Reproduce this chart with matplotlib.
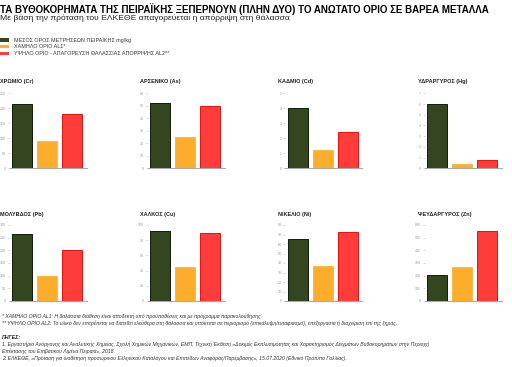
import matplotlib
matplotlib.use("Agg")
import matplotlib.pyplot as plt
from matplotlib.patches import Rectangle

plt.rcParams['font.family'] = ['Liberation Sans', 'DejaVu Sans']

# data
metals = ['ΧΡΩΜΙΟ (Cr)', 'ΑΡΣΕΝΙΚΟ (As)', 'ΚΑΔΜΙΟ (Cd)', 'ΥΔΡΑΡΓΥΡΟΣ (Hg)',
          'ΜΟΛΥΒΔΟΣ (Pb)', 'ΧΑΛΚΟΣ (Cu)', 'ΝΙΚΕΛΙΟ (Ni)', 'ΨΕΥΔΑΡΓΥΡΟΣ (Zn)']
mean_piraeus = [213, 52, 4.0, 6.0, 266, 92, 65, 205]
al1 = [90, 25, 1.2, 0.4, 100, 45, 36.5, 270]
al2 = [180, 50, 2.4, 0.8, 200, 90, 73, 550]
y_max = [250, 60, 5, 7, 300, 100, 80, 600]
y_step = [50, 10, 1, 1, 50, 20, 10, 100]

series_names = ['ΜΕΣΟΣ ΟΡΟΣ ΜΕΤΡΗΣΕΩΝ ΠΕΙΡΑΪΚΗΣ mg/kg', 'ΧΑΜΗΛΟ ΟΡΙΟ AL1*',
                'ΥΨΗΛΟ ΟΡΙΟ - ΑΠΑΓΟΡΕΥΣΗ ΘΑΛΑΣΣΙΑΣ ΑΠΟΡΡΙΨΗΣ AL2**']
fills = ['#34461f', '#fdad2c', '#fe3d3a']
edges = ['#101c08', '#fbb94a', '#e81010']

title = 'ΤΑ ΒΥΘΟΚΟΡΗΜΑΤΑ ΤΗΣ ΠΕΙΡΑΪΚΗΣ ΞΕΠΕΡΝΟΥΝ (ΠΛΗΝ ΔΥΟ) ΤΟ ΑΝΩΤΑΤΟ ΟΡΙΟ ΣΕ ΒΑΡΕΑ ΜΕΤΑΛΛΑ'
subtitle = 'Με βάση την πρόταση του ΕΛΚΕΘΕ απαγορεύεται η απόρριψη στη θάλασσα'
notes = [
    '* ΧΑΜΗΛΟ ΟΡΙΟ AL1: Η θαλάσσια διάθεση είναι αποδεκτή υπό προϋποθέσεις και με πρόγραμμα παρακολούθησης.',
    '** ΥΨΗΛΟ ΟΡΙΟ AL2: Το υλικό δεν επιτρέπεται να διατεθεί ελεύθερα στη θάλασσα και υπόκειται σε περιορισμό (επικάλυψη/ενταφιασμό), επεξεργασία ή διαχείριση επί της ξηράς.',
]
sources = [
    '1. Εργαστήριο Ανόργανης και Αναλυτικής Χημείας, Σχολή Χημικών Μηχανικών, ΕΜΠ, Τεχνική Έκθεση «Δοκιμές Εκπλυσιμότητας και Χαρακτηρισμός Δειγμάτων Βυθοκορημάτων στην Περιοχή',
    'Επέκτασης του Επιβατικού Λιμένα Πειραιά», 2018.',
    '2. ΕΛΚΕΘΕ, «Πρόταση για υιοθέτηση προσωρινού Ελληνικού Καταλόγου και Επιπέδων Αναφοράς/Παρέμβασης», 15.07.2020 (Εθνικό Πρότυπο Γαλλίας).',
]

W, H = 512, 367
fig = plt.figure(figsize=(W / 100, H / 100), dpi=100)


def fx(px):
    return px / W


def fy(py):
    return 1 - py / H


fig.text(fx(0), fy(9), title, fontsize=7.0, fontweight='bold', va='center', ha='left')
fig.text(fx(0), fy(18.5), subtitle, fontsize=6.1, va='center', ha='left', color='#222222')

# legend
for i, name in enumerate(series_names):
    yc = 40 + i * 6.8
    fig.patches.append(Rectangle((fx(0), fy(yc + 1.6)), fx(9), 3.2 / H, transform=fig.transFigure,
                                 facecolor=fills[i], edgecolor='none'))
    fig.text(fx(14), fy(yc), name, fontsize=3.9, va='center', ha='left', color='#333333')

# panels
centers = [22, 160, 297.5, 437]
rows = [(93.3, 168.3, 82), (225, 301, 214.5)]
title_x = [0, 140, 278.5, 418]
unit = 25.0

for k, metal in enumerate(metals):
    r, c = divmod(k, 4)
    top, bottom, ty = rows[r]
    left_px = centers[c] - 0.5 * unit
    width_px = 3.08 * unit
    ax = fig.add_axes([fx(left_px), fy(bottom), fx(width_px), (bottom - top) / H])
    vals = [mean_piraeus[k], al1[k], al2[k]]
    ax.bar([0, 1, 2], vals, width=0.8, color=fills, edgecolor=edges, linewidth=0.7, zorder=3)
    ax.set_xlim(-0.5, 2.58)
    ax.set_ylim(0, y_max[k])
    ticks = [y_step[k] * i for i in range(int(round(y_max[k] / y_step[k])) + 1)]
    ax.set_yticks(ticks)
    ax.set_yticklabels([str(t) for t in ticks])
    ax.set_xticks([])
    ax.tick_params(axis='y', labelsize=2.6, labelcolor='#9a9a9a', color='#bbbbbb',
                   length=1.5, width=0.4, pad=1)
    for s in ['top', 'right', 'left']:
        ax.spines[s].set_visible(False)
    ax.spines['bottom'].set_color('#aaaaaa')
    ax.spines['bottom'].set_linewidth(0.8)
    ax.set_facecolor('none')
    fig.text(fx(title_x[c]), fy(ty), metal, fontsize=4.0, fontweight='bold', va='center',
             ha='left', color='#222222')

# footnotes
for i, line in enumerate(notes):
    fig.text(fx(2), fy(316.5 + i * 7), line, fontsize=3.7, style='italic', va='center',
             ha='left', color='#333333')
fig.text(fx(2), fy(337.5), 'ΠΗΓΕΣ:', fontsize=3.8, style='italic', fontweight='bold',
         va='center', ha='left', color='#222222')
for i, line in enumerate(sources):
    fig.text(fx(2), fy(344 + i * 7), line, fontsize=3.7, style='italic', va='center',
             ha='left', color='#333333')

fig.savefig('out.png', dpi=100, facecolor='white')
